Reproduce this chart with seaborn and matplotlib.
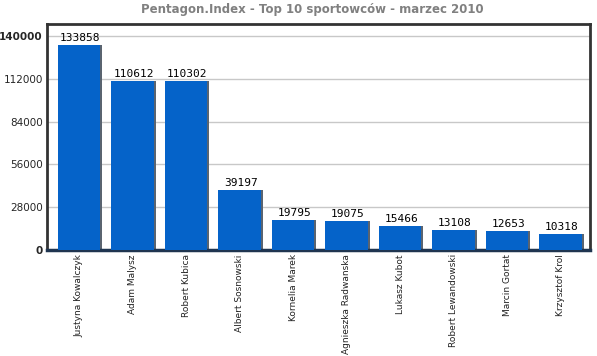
import matplotlib
matplotlib.use("Agg")
import matplotlib.pyplot as plt
import seaborn as sns
import pandas as pd

names = ["Justyna Kowalczyk", "Adam Malysz", "Robert Kubica", "Albert Sosnowski",
         "Kornelia Marek", "Agnieszka Radwanska", "Lukasz Kubot", "Robert Lewandowski",
         "Marcin Gortat", "Krzysztof Krol"]
values = [133858, 110612, 110302, 39197, 19795, 19075, 15466, 13108, 12653, 10318]
yticks = [0, 28000, 56000, 84000, 112000, 140000]

df = pd.DataFrame({"name": names, "value": values})

sns.set_theme(style="white")
plt.rcParams['font.family'] = ['DejaVu Sans']

fig = plt.figure(figsize=(5.97, 3.56), dpi=100)
ax = fig.add_axes([47/597, 1-250/356, (590-47)/597, (250-24)/356])

# shadow bars
sns.barplot(data=df, x="name", y="value", color="#5a6470", width=0.79, saturation=1,
            linewidth=0, ax=ax, zorder=2)
for p in ax.patches:
    p.set_x(p.get_x() + 0.035)
    p.set_zorder(2)
n_shadow = len(ax.patches)
sns.barplot(data=df, x="name", y="value", color="#0563c9", width=0.79, saturation=1,
            linewidth=0, ax=ax, zorder=3)
for i, p in enumerate(ax.patches[n_shadow:]):
    p.set_zorder(3)
    ax.text(p.get_x() + p.get_width()/2 + 0.02, p.get_height() + 1300, f"{values[i]}",
            ha="center", va="bottom", fontsize=8, color="black",
            family="DejaVu Sans Mono", zorder=4)

ax.set_xlim(-0.6, 9.55)
ax.set_ylim(0, 147800)
ax.set_yticks(yticks)
ax.set_yticklabels([str(t) for t in yticks], fontsize=7.5)
for lbl, t in zip(ax.get_yticklabels(), yticks):
    if t in (0, 140000):
        lbl.set_fontweight("bold")
ax.set_xticks(range(len(names)))
ax.set_xticklabels(names, rotation=90, fontsize=6.5, color="#222222")
ax.tick_params(axis="x", length=0, pad=3)
ax.tick_params(axis="y", length=0, pad=3)
ax.yaxis.grid(True, color="#c8c8c8", linewidth=1, zorder=0)
ax.set_axisbelow(True)
ax.set_xlabel("")
ax.set_ylabel("")
for s in ["top", "right", "left"]:
    ax.spines[s].set_color("#333333")
    ax.spines[s].set_linewidth(2)
ax.spines["bottom"].set_color("#1f3550")
ax.spines["bottom"].set_linewidth(2.5)

fig.text(312/597, 1-9/356, "Pentagon.Index - Top 10 sportowców - marzec 2010",
         ha="center", va="center", fontsize=8.5, fontweight="bold", color="#808080")

fig.savefig("out.png", dpi=100)
